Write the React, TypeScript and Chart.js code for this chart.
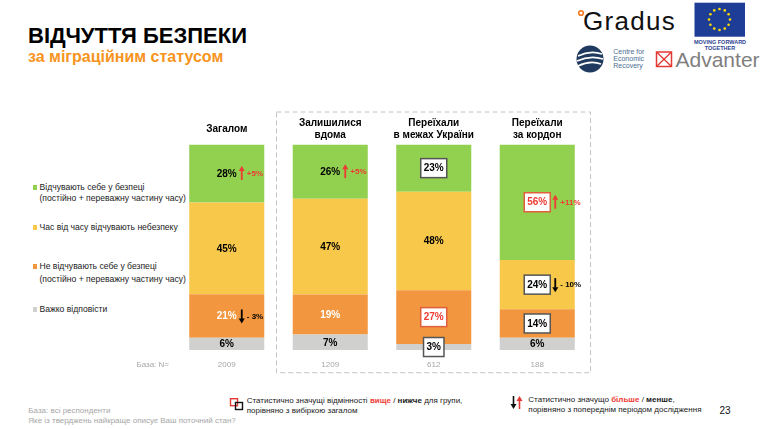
import React, { useEffect, useRef } from "react";
import { Chart, registerables } from "chart.js";

Chart.register(...registerables);

// ---------- DATA ----------
const categories: string[][] = [
  ["Загалом"],
  ["Залишилися", "вдома"],
  ["Переїхали", "в межах України"],
  ["Переїхали", "за кордон"],
];
const baseN = ["2009", "1209", "612", "188"];

const seriesNames = [
  ["Відчувають себе у безпеці", "(постійно + переважну частину часу)"],
  ["Час від часу відчувають небезпеку"],
  ["Не відчувають себе у безпеці", "(постійно + переважну частину часу)"],
  ["Важко відповісти"],
];

const safeValues = [28.2, 26.4, 23.0, 56.2];
const sometimesValues = [44.7, 46.6, 47.9, 24.0];
const unsafeValues = [21.1, 19.5, 26.2, 13.8];
const hardValues = [6.0, 7.5, 2.9, 6.0];

const safeLabels = ["28%", "26%", "23%", "56%"];
const sometimesLabels = ["45%", "47%", "48%", "24%"];
const unsafeLabels = ["21%", "19%", "27%", "14%"];
const hardLabels = ["6%", "7%", "3%", "6%"];

// significance vs total sample: "" none, "black" boxed, "red" higher
const safeMarks = ["", "", "black", "red"];
const sometimesMarks = ["", "", "", "black"];
const unsafeMarks = ["", "", "red", "black"];
const hardMarks = ["", "", "black", ""];

// change vs previous wave
const safeChanges = ["+5%", "+5%", "", "+11%"];
const sometimesChanges = ["", "", "", "- 10%"];
const unsafeChanges = ["- 3%", "", "", ""];
const hardChanges = ["", "", "", ""];

const safeTextColors = ["#000", "#000", "#000", "#000"];
const sometimesTextColors = ["#000", "#000", "#000", "#000"];
const unsafeTextColors = ["#fff", "#fff", "#000", "#000"];
const hardTextColors = ["#000", "#000", "#000", "#000"];

const COLORS = {
  safe: "#92D050",
  sometimes: "#F8C84A",
  unsafe: "#F2973F",
  hard: "#D0D0CE",
};
const RED = "#EE3B33";
const FONT = '"Liberation Sans", Arial, sans-serif';

// bottom-to-top stacking order
const segmentInfo = [
  { labels: hardLabels, marks: hardMarks, changes: hardChanges, colors: hardTextColors },
  { labels: unsafeLabels, marks: unsafeMarks, changes: unsafeChanges, colors: unsafeTextColors },
  { labels: sometimesLabels, marks: sometimesMarks, changes: sometimesChanges, colors: sometimesTextColors },
  { labels: safeLabels, marks: safeMarks, changes: safeChanges, colors: safeTextColors },
];

const labelPlugin = {
  id: "segLabels",
  afterDatasetsDraw(chart: any) {
    const ctx = chart.ctx;
    chart.data.datasets.forEach((_ds: any, di: number) => {
      const meta = chart.getDatasetMeta(di);
      const info = segmentInfo[di];
      meta.data.forEach((bar: any, i: number) => {
        const { x, y, base } = bar.getProps(["x", "y", "base"], true);
        const cy = (y + base) / 2;
        const label = info.labels[i];
        const mark = info.marks[i];
        const change = info.changes[i];
        ctx.save();
        ctx.font = `bold 10px ${FONT}`;
        const tw = ctx.measureText(label).width;
        const bw = tw + 6;
        const bh = 19;
        if (mark) {
          ctx.fillStyle = "#fff";
          ctx.fillRect(x - bw / 2, cy - bh / 2, bw, bh);
          ctx.strokeStyle = mark === "red" ? "#E0603C" : "#555";
          ctx.lineWidth = 1.5;
          ctx.strokeRect(x - bw / 2, cy - bh / 2, bw, bh);
        }
        ctx.fillStyle = mark === "red" ? RED : info.colors[i];
        ctx.textAlign = "center";
        ctx.textBaseline = "middle";
        ctx.fillText(label, x, cy + 0.5);
        if (change) {
          const up = change.startsWith("+");
          const half = mark ? bw / 2 : tw / 2;
          const ax = x + half + 5;
          const col = up ? RED : "#000";
          ctx.strokeStyle = col;
          ctx.fillStyle = col;
          ctx.lineWidth = 1.8;
          ctx.beginPath();
          if (up) {
            ctx.moveTo(ax, cy + 6.5);
            ctx.lineTo(ax, cy - 3);
          } else {
            ctx.moveTo(ax, cy - 6.5);
            ctx.lineTo(ax, cy + 3);
          }
          ctx.stroke();
          ctx.beginPath();
          if (up) {
            ctx.moveTo(ax, cy - 7.5);
            ctx.lineTo(ax - 3, cy - 2.5);
            ctx.lineTo(ax + 3, cy - 2.5);
          } else {
            ctx.moveTo(ax, cy + 7.5);
            ctx.lineTo(ax - 3, cy + 2.5);
            ctx.lineTo(ax + 3, cy + 2.5);
          }
          ctx.closePath();
          ctx.fill();
          ctx.font = `bold 8px ${FONT}`;
          ctx.textAlign = "left";
          ctx.fillText(change, ax + 5, cy + 0.5);
        }
        ctx.restore();
      });
    });
  },
  afterDraw(chart: any) {
    const ctx = chart.ctx;
    const xs = chart.scales.x;
    const area = chart.chartArea;
    ctx.save();
    // dashed frame around migration groups
    const left = (xs.getPixelForValue(0) + xs.getPixelForValue(1)) / 2 - 2;
    const right = area.right + 1.5;
    const top = area.top - 32.5;
    const bottom = area.bottom + 22.7;
    ctx.setLineDash([5, 3]);
    ctx.strokeStyle = "#C4C4C4";
    ctx.lineWidth = 1;
    ctx.strokeRect(left, top, right - left, bottom - top);
    ctx.setLineDash([]);
    // category titles
    ctx.fillStyle = "#000";
    ctx.font = `bold 10px ${FONT}`;
    ctx.textAlign = "center";
    ctx.textBaseline = "middle";
    categories.forEach((lines, i) => {
      const x = xs.getPixelForValue(i);
      if (lines.length === 1) {
        ctx.fillText(lines[0], x, area.top - 15.5);
      } else {
        ctx.fillText(lines[0], x, area.top - 21.5);
        ctx.fillText(lines[1], x, area.top - 9.5);
      }
    });
    // base N
    ctx.fillStyle = "#A6A6A6";
    ctx.font = `8px ${FONT}`;
    baseN.forEach((n, i) => {
      ctx.fillText(n, xs.getPixelForValue(i), area.bottom + 14.3);
    });
    ctx.textAlign = "right";
    ctx.fillText("База: N=", area.left - 6, area.bottom + 14.3);
    ctx.restore();
  },
};

const abs = (left: number, top: number, extra: any = {}): React.CSSProperties => ({
  position: "absolute",
  left,
  top,
  whiteSpace: "nowrap",
  fontFamily: FONT,
  ...extra,
});

function Line({ x, cy, size, children, style }: any) {
  return (
    <div style={abs(x, cy - size / 2, { fontSize: size, lineHeight: `${size}px`, ...style })}>
      {children}
    </div>
  );
}

export default function App() {
  const ref = useRef<HTMLCanvasElement>(null);

  useEffect(() => {
    if (!ref.current) return;
    const chart = new Chart(ref.current, {
      type: "bar",
      data: {
        labels: categories.map((c) => c.join(" ")),
        datasets: [
          { label: seriesNames[3][0], data: hardValues, backgroundColor: COLORS.hard },
          { label: seriesNames[2][0], data: unsafeValues, backgroundColor: COLORS.unsafe },
          { label: seriesNames[1][0], data: sometimesValues, backgroundColor: COLORS.sometimes },
          { label: seriesNames[0][0], data: safeValues, backgroundColor: COLORS.safe },
        ],
      },
      options: {
        responsive: false,
        animation: false,
        events: [],
        datasets: { bar: { barPercentage: 0.725, categoryPercentage: 1, borderWidth: 0 } },
        layout: { padding: { left: 175, right: 175, top: 144.5, bottom: 79 } },
        scales: {
          x: { stacked: true, display: false },
          y: { stacked: true, display: false, min: 0, max: 100 },
        },
        plugins: { legend: { display: false }, tooltip: { enabled: false } },
      } as any,
      plugins: [labelPlugin as any],
    });
    return () => chart.destroy();
  }, []);

  const legendRows = [
    { color: COLORS.safe, lines: seriesNames[0], cys: [187.3, 198] },
    { color: COLORS.sometimes, lines: seriesNames[1], cys: [227.3] },
    { color: COLORS.unsafe, lines: seriesNames[2], cys: [266.7, 278.8] },
    { color: COLORS.hard, lines: seriesNames[3], cys: [309.3] },
  ];

  const stars = Array.from({ length: 12 }, (_, k) => {
    const a = (k * Math.PI) / 6;
    return { x: 719.5 + 10.5 * Math.cos(a), y: 19.5 + 10.5 * Math.sin(a) };
  });

  return (
    <div
      style={{
        position: "fixed",
        left: 0,
        top: 0,
        width: 764,
        height: 429,
        background: "#fff",
        overflow: "hidden",
        fontFamily: FONT,
      }}
    >
      {/* Title */}
      <div style={abs(28, 24.7, { fontSize: 22, lineHeight: "22px", fontWeight: 700, color: "#000" })}>
        ВІДЧУТТЯ БЕЗПЕКИ
      </div>
      <div style={abs(28, 49.2, { fontSize: 16, lineHeight: "16px", fontWeight: 700, color: "#F7941D" })}>
        за міграційним статусом
      </div>

      {/* Logos */}
      <svg width={764} height={429} style={{ position: "absolute", left: 0, top: 0 }}>
        <circle cx={581} cy={13} r={2.3} fill="none" stroke="#F47B20" strokeWidth={1.6} />
        <rect x={694.5} y={2.7} width={50.5} height={34} fill="#1E3D96" />
        {stars.map((s, k) => (
          <circle key={k} cx={s.x} cy={s.y} r={1.3} fill="#FFDD00" />
        ))}
        <circle cx={590} cy={59} r={13.5} fill="#1F3A5E" />
        <path d="M578 56 Q590 50 602 54" stroke="#fff" strokeWidth={1.6} fill="none" />
        <path d="M577 61 Q590 55 603 59" stroke="#fff" strokeWidth={1.6} fill="none" />
        <path d="M578 66 Q590 60 601 64" stroke="#fff" strokeWidth={1.6} fill="none" />
        <rect x={656.5} y={52} width={15} height={14.5} fill="none" stroke="#E53935" strokeWidth={1.5} />
        <line x1={656.5} y1={52} x2={671.5} y2={66.5} stroke="#E53935" strokeWidth={1.3} />
        <line x1={671.5} y1={52} x2={656.5} y2={66.5} stroke="#E53935" strokeWidth={1.3} />
        {/* footer icons */}
        <rect x={230.5} y={398.7} width={7} height={7} fill="none" stroke="#E53935" strokeWidth={1.4} />
        <rect x={235.5} y={402.5} width={7} height={7} fill="none" stroke="#111" strokeWidth={1.4} />
        <line x1={513.5} y1={396} x2={513.5} y2={405} stroke="#111" strokeWidth={1.6} />
        <polygon points="510.5,404 516.5,404 513.5,409" fill="#111" />
        <line x1={519.5} y1={409} x2={519.5} y2={400} stroke="#E53935" strokeWidth={1.6} />
        <polygon points="516.5,401 522.5,401 519.5,396" fill="#E53935" />
      </svg>
      <div style={abs(583, 8, { fontSize: 26, lineHeight: "26px", color: "#111", letterSpacing: 1.3 })}>Gradus</div>
      <Line x={690} cy={42.7} size={5.5} style={{ width: 60, textAlign: "center", fontWeight: 700, color: "#2F3F93" }}>
        MOVING FORWARD
      </Line>
      <Line x={690} cy={48.7} size={5.5} style={{ width: 60, textAlign: "center", fontWeight: 700, color: "#2F3F93" }}>
        TOGETHER
      </Line>
      <Line x={613.3} cy={51.7} size={7} style={{ color: "#4A6C95" }}>Centre for</Line>
      <Line x={613.3} cy={58.3} size={7} style={{ color: "#4A6C95" }}>Economic</Line>
      <Line x={613.3} cy={65} size={7} style={{ color: "#4A6C95" }}>Recovery</Line>
      <div style={abs(675.5, 48.5, { fontSize: 21, lineHeight: "21px", color: "#7F7F7F" })}>Advanter</div>

      {/* Legend */}
      {legendRows.map((row, r) => (
        <React.Fragment key={r}>
          <div
            style={{
              position: "absolute",
              left: 32.5,
              top: row.cys[0] - 2.3,
              width: 4.5,
              height: 4.5,
              background: row.color,
            }}
          />
          {row.lines.map((t, k) => (
            <Line key={k} x={39.5} cy={row.cys[k]} size={8.6} style={{ color: "#1a1a1a" }}>
              {t}
            </Line>
          ))}
        </React.Fragment>
      ))}

      {/* Footer */}
      <Line x={246.7} cy={401} size={8} style={{ color: "#1a1a1a" }}>
        Статистично значущі відмінності <b style={{ color: RED }}>вище</b> / <b>нижче</b> для групи,
      </Line>
      <Line x={246.7} cy={411} size={8} style={{ color: "#1a1a1a" }}>
        порівняно з вибіркою загалом
      </Line>
      <Line x={528.3} cy={399.5} size={8} style={{ color: "#1a1a1a" }}>
        Статистично значущо <b style={{ color: RED }}>більше</b> / <b>менше</b>,
      </Line>
      <Line x={528.3} cy={410} size={8} style={{ color: "#1a1a1a" }}>
        порівняно з попереднім періодом дослідження
      </Line>
      <Line x={719.5} cy={411} size={10} style={{ color: "#111" }}>23</Line>
      <Line x={28.3} cy={411} size={8} style={{ color: "#A6A6A6" }}>База: всі респонденти</Line>
      <Line x={28.3} cy={421.3} size={8} style={{ color: "#A6A6A6" }}>
        Яке із тверджень найкраще описує Ваш поточний стан?
      </Line>

      <canvas ref={ref} width={764} height={429} style={{ position: "absolute", left: 0, top: 0 }} />
    </div>
  );
}
